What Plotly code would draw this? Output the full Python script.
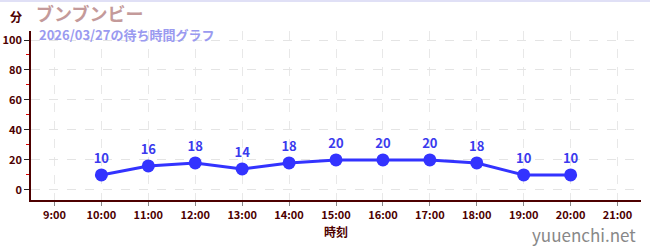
import plotly.graph_objects as go

date = "2026-03-27"
times = ["10:00", "11:00", "12:00", "13:00", "14:00", "15:00", "16:00", "17:00", "18:00", "19:00", "20:00"]
waits = [10, 16, 18, 14, 18, 20, 20, 20, 18, 10, 10]
title = "ブンブンビー"
subtitle = "2026/03/27の待ち時間グラフ"
y_unit = "分"
x_title = "時刻"
watermark = "yuuenchi.net"

xs = [f"{date} {t}" for t in times]
FONT = "Noto Sans CJK JP"
MAROON = "#4d0000"

fig = go.Figure()
fig.add_trace(go.Scatter(
    x=xs, y=waits, mode="lines+markers+text",
    text=[str(v) for v in waits], textposition="top center",
    textfont=dict(family=FONT, size=13, color="#3a3aee", weight="bold"),
    line=dict(color="#3333ff", width=3),
    marker=dict(color="#3333ff", size=13),
    cliponaxis=False, hoverinfo="skip",
))

for y0, y1 in [(20, 40), (60, 80)]:
    fig.add_shape(type="rect", xref="paper", yref="y", x0=0, x1=1, y0=y0, y1=y1,
                  fillcolor="#f4f4f4", line_width=0, layer="below")

fig.update_layout(
    width=650, height=250,
    margin=dict(l=31, r=9, t=31, b=50, autoexpand=False),
    paper_bgcolor="white", plot_bgcolor="white",
    showlegend=False,
    font=dict(family=FONT, color=MAROON),
    xaxis=dict(
        type="date",
        range=[f"{date} 08:30", f"{date} 21:30"],
        dtick=3600000, tick0=f"{date} 09:00", tickformat="%-H:%M",
        ticks="outside", ticklen=4, tickcolor="#888888", tickwidth=1,
        tickfont=dict(family=FONT, size=11, color=MAROON, weight="bold"),
        showline=True, linecolor=MAROON, linewidth=1.5,
        showgrid=True, gridcolor="#e8e8e8", griddash="dash", gridwidth=1,
        zeroline=False, fixedrange=True, automargin=False,
        title=dict(text=x_title, font=dict(family=FONT, size=12, color=MAROON, weight="bold"), standoff=8),
    ),
    yaxis=dict(
        range=[-6.7, 106],
        tickvals=[0, 20, 40, 60, 80, 100],
        ticks="outside", ticklen=5, tickcolor="#222222", tickwidth=1,
        tickfont=dict(family=FONT, size=11, color=MAROON, weight="bold"),
        showline=True, linecolor=MAROON, linewidth=1.5,
        showgrid=True, gridcolor="#e4e4e4", griddash="dash", gridwidth=1,
        zeroline=False, fixedrange=True, automargin=False,
        minor=dict(tickvals=[10, 30, 50, 70, 90], ticks="outside", ticklen=3, tickcolor="#dd0000", showgrid=False),
    ),
    shapes=[dict(type="line", xref="paper", yref="paper", x0=-0.1, x1=1.1, y0=1.178, y1=1.178,
                 line=dict(color="#e0e0f6", width=2))],
)

fig.add_annotation(text=y_unit, xref="paper", yref="paper", x=-0.012, y=1.0, yshift=15,
                   xanchor="right", yanchor="middle", showarrow=False,
                   font=dict(family=FONT, size=12, color=MAROON, weight="bold"))
fig.add_annotation(text=title, xref="paper", yref="paper", x=0.007, y=1.0, yshift=18,
                   xanchor="left", yanchor="middle", showarrow=False, borderpad=0,
                   font=dict(family=FONT, size=18, color="#c49a9a", weight="bold"))
fig.add_annotation(text=subtitle, xref="paper", yref="paper", x=0.012, y=1.0, yshift=-3,
                   xanchor="left", yanchor="middle", showarrow=False, borderpad=0,
                   font=dict(family=FONT, size=13, color="#9a9af0", weight="bold"))
fig.add_annotation(text=watermark, xref="paper", yref="paper", x=0.995, y=0, yshift=-34,
                   xanchor="right", yanchor="middle", showarrow=False,
                   font=dict(family=FONT, size=17, color="#888888"))

fig.write_html("out.html")
